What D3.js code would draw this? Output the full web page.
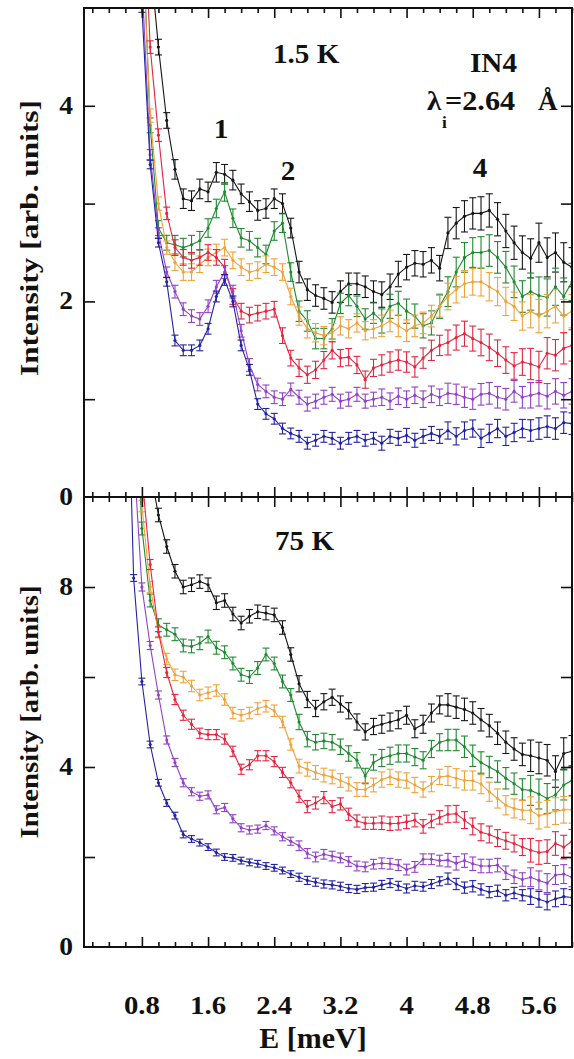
<!DOCTYPE html>
<html>
<head>
<meta charset="utf-8">
<script src="https://cdn.jsdelivr.net/npm/d3@7"></script>
<style>
  body { margin: 0; background: #fff; }
  text { font-family: "Liberation Serif", "Times New Roman", serif; font-weight: bold; fill: #111; }
</style>
</head>
<body>
<script>
// energies (meV)
var energy = [0.6, 0.7, 0.8, 0.9, 1.0, 1.1, 1.2, 1.3, 1.4, 1.5, 1.6, 1.7, 1.8, 1.9, 2.0, 2.1, 2.2, 2.3, 2.4, 2.5,
  2.6, 2.7, 2.8, 2.9, 3.0, 3.1, 3.2, 3.3, 3.4, 3.5, 3.6, 3.7, 3.8, 3.9, 4.0, 4.1, 4.2, 4.3, 4.4, 4.5,
  4.6, 4.7, 4.8, 4.9, 5.0, 5.1, 5.2, 5.3, 5.4, 5.5, 5.6, 5.7, 5.8, 5.9, 6.0];

// 1.5 K panel
var topBlack = [10, 8, 6.5, 5.5, 4.6, 3.85, 3.35, 3.05, 3.03, 3.15, 3.12, 3.32, 3.3, 3.24, 3.1, 3.02, 2.93, 2.95, 3.05, 3.0,
  2.75, 2.3, 2.12, 2.06, 2.03, 1.99, 2.1, 2.18, 2.18, 2.15, 2.1, 2.07, 2.15, 2.28, 2.35, 2.39, 2.38, 2.42, 2.34, 2.7,
  2.8, 2.87, 2.9, 2.9, 2.93, 2.84, 2.72, 2.6, 2.5, 2.44, 2.6, 2.45, 2.5, 2.4, 2.35];
var topGreen = [10, 8, 6, 3.8, 2.75, 2.6, 2.58, 2.55, 2.58, 2.62, 2.75, 2.95, 3.12, 2.85, 2.65, 2.62, 2.55, 2.48, 2.72, 2.8,
  2.3, 1.9, 1.8, 1.62, 1.62, 1.72, 1.98, 2.06, 1.95, 1.82, 1.88, 1.8, 1.95, 1.98, 1.9, 1.85, 1.75, 1.78, 1.95, 2.1,
  2.3, 2.45, 2.5, 2.5, 2.52, 2.45, 2.35, 2.2, 2.05, 2.1, 2.06, 2.04, 2.15, 2.05, 2.2];
var topOrange = [10, 8, 5.8, 3.9, 3.0, 2.55, 2.4, 2.3, 2.3, 2.38, 2.45, 2.5, 2.55, 2.42, 2.35, 2.3, 2.32, 2.38, 2.35, 2.3,
  2.05, 1.85, 1.72, 1.68, 1.65, 1.68, 1.75, 1.72, 1.78, 1.7, 1.72, 1.75, 1.8, 1.75, 1.7, 1.75, 1.78, 1.85, 1.95, 2.05,
  2.12, 2.18, 2.2, 2.2, 2.15, 2.1, 2.0, 1.95, 1.85, 1.9, 1.85, 1.9, 1.95, 1.85, 1.9];
var topRed = [10, 8, 6.5, 4.6, 3.7, 2.9, 2.55, 2.45, 2.42, 2.45, 2.5, 2.45, 2.35, 2.05, 1.9, 1.86, 1.88, 1.9, 1.92, 1.65,
  1.42, 1.32, 1.25, 1.3, 1.4, 1.5, 1.42, 1.43, 1.35, 1.2, 1.32, 1.35, 1.38, 1.4, 1.38, 1.33, 1.42, 1.5, 1.55, 1.58,
  1.63, 1.67, 1.62, 1.58, 1.53, 1.47, 1.4, 1.34, 1.38, 1.36, 1.33, 1.47, 1.45, 1.52, 1.55];
var topPurple = [10, 7.5, 5.3, 3.5, 2.7, 2.3, 2.1, 1.92, 1.85, 1.82, 1.95, 2.15, 2.3, 2.1, 1.7, 1.35, 1.15, 1.08, 1.02, 1.0,
  1.1, 1.02, 0.95, 0.98, 1.02, 1.05, 0.98, 1.0, 1.05, 0.98, 1.0, 1.02, 0.98, 1.03, 1.0, 1.04, 1.0, 1.05, 1.02, 1.06,
  1.05, 1.02, 1.0, 1.05, 1.06, 1.02, 1.0, 1.08, 1.02, 1.04, 1.06, 1.03, 1.08, 1.04, 1.08];
var topBlue = [9, 7, 5.0, 3.4, 2.6, 2.2, 1.6, 1.5, 1.5, 1.55, 1.72, 2.05, 2.22, 2.0, 1.55, 1.3, 0.95, 0.85, 0.8, 0.7,
  0.65, 0.62, 0.55, 0.58, 0.62, 0.6, 0.55, 0.6, 0.62, 0.58, 0.6, 0.55, 0.62, 0.6, 0.63, 0.58, 0.62, 0.65, 0.62, 0.68,
  0.62, 0.68, 0.7, 0.6, 0.65, 0.7, 0.62, 0.66, 0.7, 0.68, 0.7, 0.72, 0.7, 0.76, 0.75];
var errTop = [0.08, 0.08, 0.08, 0.08, 0.08, 0.08, 0.1, 0.1, 0.1, 0.1, 0.1, 0.1, 0.1, 0.1, 0.1, 0.1, 0.1, 0.1, 0.1, 0.1,
  0.1, 0.11, 0.11, 0.11, 0.11, 0.11, 0.11, 0.11, 0.11, 0.11, 0.11, 0.13, 0.13, 0.13, 0.13, 0.13, 0.13, 0.13, 0.13, 0.16,
  0.16, 0.16, 0.16, 0.17, 0.17, 0.17, 0.17, 0.17, 0.17, 0.2, 0.2, 0.2, 0.2, 0.2, 0.2];

// 75 K panel
var botBlack = [16, 14, 12, 10.6, 9.6, 8.9, 8.35, 8.0, 8.05, 8.12, 8.05, 7.65, 7.7, 7.4, 7.2, 7.35, 7.45, 7.42, 7.38, 7.1,
  6.5, 5.85, 5.5, 5.3, 5.45, 5.55, 5.4, 5.25, 5.0, 4.78, 4.9, 4.95, 5.0, 5.05, 5.15, 4.85, 4.95, 5.2, 5.38, 5.38,
  5.33, 5.28, 5.2, 5.05, 4.92, 4.75, 4.55, 4.4, 4.28, 4.25, 4.2, 4.15, 3.9, 4.3, 4.35];
var botGreen = [16, 13, 9.3, 7.7, 7.15, 7.05, 6.95, 6.7, 6.68, 6.75, 6.9, 6.65, 6.55, 6.3, 6.05, 6.0, 6.2, 6.5, 6.3, 5.9,
  5.6, 5.0, 4.62, 4.55, 4.58, 4.55, 4.45, 4.3, 4.15, 3.8, 4.1, 4.2, 4.25, 4.3, 4.3, 4.22, 4.15, 4.4, 4.55, 4.6,
  4.6, 4.45, 4.25, 4.1, 4.0, 3.9, 3.75, 3.63, 3.5, 3.48, 3.4, 3.3, 3.38, 3.6, 3.7];
var botOrange = [16, 13.5, 9.8, 8.0, 7.0, 6.4, 6.05, 6.0, 5.8, 5.6, 5.65, 5.7, 5.5, 5.2, 5.15, 5.2, 5.3, 5.35, 5.25, 5.0,
  4.5, 4.02, 3.95, 3.88, 3.82, 3.78, 3.7, 3.62, 3.5, 3.5, 3.6, 3.72, 3.78, 3.72, 3.7, 3.6, 3.5, 3.62, 3.78, 3.8,
  3.75, 3.7, 3.7, 3.62, 3.45, 3.3, 3.15, 3.08, 3.04, 3.04, 2.92, 2.96, 3.02, 3.05, 3.05];
var botRed = [16, 14, 10.5, 8.5, 7.0, 6.1, 5.5, 5.15, 4.95, 4.75, 4.72, 4.72, 4.62, 4.35, 3.95, 4.05, 4.25, 4.25, 4.12, 3.88,
  3.65, 3.35, 3.12, 3.2, 3.32, 3.12, 3.18, 2.95, 2.8, 2.75, 2.75, 2.76, 2.74, 2.75, 2.78, 2.82, 2.68, 2.8, 2.88, 2.95,
  2.96, 2.82, 2.68, 2.55, 2.5, 2.42, 2.36, 2.3, 2.22, 2.15, 2.1, 2.12, 2.3, 2.22, 2.35];
var botPurple = [18, 11, 8.0, 6.7, 5.6, 4.6, 4.1, 3.65, 3.45, 3.35, 3.38, 3.05, 3.1, 2.85, 2.65, 2.6, 2.62, 2.7, 2.58, 2.45,
  2.35, 2.25, 2.08, 2.0, 2.06, 2.02, 1.98, 1.9, 1.8, 1.78, 1.84, 1.86, 1.85, 1.82, 1.72, 1.78, 1.95, 1.95, 1.92, 1.93,
  1.86, 1.92, 1.85, 1.8, 1.8, 1.82, 1.65, 1.56, 1.5, 1.55, 1.48, 1.42, 1.6, 1.62, 1.55];
var botBlue = [15, 8.2, 5.9, 4.5, 3.65, 3.2, 2.92, 2.5, 2.4, 2.32, 2.22, 2.1, 2.0, 1.98, 1.92, 1.88, 1.85, 1.8, 1.76, 1.7,
  1.62, 1.55, 1.48, 1.44, 1.4, 1.38, 1.35, 1.3, 1.28, 1.32, 1.33, 1.38, 1.42, 1.36, 1.3, 1.36, 1.34, 1.4, 1.46, 1.52,
  1.4, 1.32, 1.35, 1.28, 1.22, 1.25, 1.15, 1.2, 1.15, 1.12, 1.06, 1.0, 1.07, 1.12, 1.1];
var errBot = [0.15, 0.15, 0.15, 0.15, 0.15, 0.15, 0.15, 0.15, 0.15, 0.15, 0.15, 0.15, 0.15, 0.15, 0.15, 0.15, 0.15, 0.15, 0.15, 0.15,
  0.15, 0.18, 0.18, 0.18, 0.18, 0.18, 0.18, 0.18, 0.18, 0.18, 0.18, 0.2, 0.2, 0.2, 0.2, 0.2, 0.2, 0.2, 0.2, 0.25,
  0.25, 0.25, 0.25, 0.25, 0.25, 0.25, 0.25, 0.25, 0.25, 0.35, 0.35, 0.35, 0.35, 0.35, 0.35];

var seriesColors = ["#161616", "#1f8a30", "#f0a23a", "#e2263e", "#9240c8", "#2222a4"];
var errScaleTop = [1, 0.95, 0.85, 0.8, 0.65, 0.55];
var errScaleBot = [1, 0.95, 0.85, 0.75, 0.6, 0.5];

var xMajor = [0.8, 1.6, 2.4, 3.2, 4, 4.8, 5.6];

// ---- chart setup ----
var svgWidth = 574, svgHeight = 1059;
var svg = d3.select("body").append("svg")
  .attr("width", svgWidth)
  .attr("height", svgHeight);

var x = d3.scaleLinear().domain([0.1, 6.0]).range([84, 572]);
var yTop = d3.scaleLinear().domain([0, 5]).range([497, 8]);
var yBot = d3.scaleLinear().domain([0, 10]).range([947, 497]);

var xMinor = d3.range(2, 61, 2).map(d => d / 10).filter(d => xMajor.indexOf(d) < 0);

function addText(sel, px, py, str, size, anchor, sx) {
  return sel.append("text")
    .attr("transform", `translate(${px},${py}) scale(${sx || 1},1)`)
    .attr("text-anchor", anchor || "start")
    .style("font-size", size + "px")
    .text(str);
}

function drawPanel(id, y, seriesList, errs, errScale, yMaxTick, yStep, yLabelStep) {
  var g = svg.append("g");
  var x0 = x.range()[0], x1 = x.range()[1];
  var yb = y.range()[0], yt = y.range()[1];

  g.append("clipPath").attr("id", id)
    .append("rect").attr("x", x0).attr("y", yt).attr("width", x1 - x0).attr("height", yb - yt);

  var plot = g.append("g").attr("clip-path", `url(#${id})`);

  seriesList.forEach(function(vals, si) {
    var color = seriesColors[si];
    var pts = energy.map((e, i) => ({ e: e, v: vals[i], err: errs[i] * errScale[si] }));
    var sg = plot.append("g");

    var line = d3.line().x(d => x(d.e)).y(d => y(d.v));
    sg.append("path").datum(pts)
      .attr("d", line)
      .attr("fill", "none")
      .attr("stroke", color)
      .attr("stroke-width", 1.1);

    var bars = sg.selectAll(".eb").data(pts).enter().append("g");
    bars.append("line")
      .attr("x1", d => x(d.e)).attr("x2", d => x(d.e))
      .attr("y1", d => y(d.v - d.err)).attr("y2", d => y(d.v + d.err))
      .attr("stroke", color).attr("stroke-width", 1.1);
    [-1, 1].forEach(function(s) {
      bars.append("line")
        .attr("x1", d => x(d.e) - 3.5).attr("x2", d => x(d.e) + 3.5)
        .attr("y1", d => y(d.v + s * d.err)).attr("y2", d => y(d.v + s * d.err))
        .attr("stroke", color).attr("stroke-width", 1.1);
    });
    bars.append("circle")
      .attr("cx", d => x(d.e)).attr("cy", d => y(d.v))
      .attr("r", 1.6).attr("fill", color);
  });

  // frame
  g.append("rect")
    .attr("x", x0).attr("y", yt).attr("width", x1 - x0).attr("height", yb - yt)
    .attr("fill", "none").attr("stroke", "#111").attr("stroke-width", 2);

  // x ticks (inward, top and bottom)
  var xAxisB = d3.axisBottom(x).tickValues(xMajor).tickSize(-10).tickFormat("");
  var xAxisBm = d3.axisBottom(x).tickValues(xMinor).tickSize(-5).tickFormat("");
  var xAxisT = d3.axisTop(x).tickValues(xMajor).tickSize(-10).tickFormat("");
  var xAxisTm = d3.axisTop(x).tickValues(xMinor).tickSize(-5).tickFormat("");
  [[xAxisB, yb], [xAxisBm, yb], [xAxisT, yt], [xAxisTm, yt]].forEach(function(a) {
    var ax = g.append("g").attr("transform", `translate(0,${a[1]})`).call(a[0]);
    ax.select(".domain").remove();
    ax.selectAll(".tick line").attr("stroke", "#111").attr("stroke-width", 1.6);
  });

  // y ticks
  var yt_vals = d3.range(yStep, yMaxTick + 0.001, yStep);
  var yAxisL = d3.axisLeft(y).tickValues(yt_vals).tickSize(-11).tickFormat("");
  var yAxisR = d3.axisRight(y).tickValues(yt_vals).tickSize(-11).tickFormat("");
  [[yAxisL, x0], [yAxisR, x1]].forEach(function(a) {
    var ax = g.append("g").attr("transform", `translate(${a[1]},0)`).call(a[0]);
    ax.select(".domain").remove();
    ax.selectAll(".tick line").attr("stroke", "#111").attr("stroke-width", 1.6);
  });

  // y labels
  d3.range(0, yMaxTick + 0.001, yLabelStep).forEach(function(v) {
    addText(g, 73, y(v) + 8, String(v), 25, "end", 1.1);
  });

  return g;
}

var topPanel = drawPanel("clipTop", yTop,
  [topBlack, topGreen, topOrange, topRed, topPurple, topBlue], errTop, errScaleTop, 4, 1, 2);
var botPanel = drawPanel("clipBot", yBot,
  [botBlack, botGreen, botOrange, botRed, botPurple, botBlue], errBot, errScaleBot, 8, 2, 4);

// x tick labels
xMajor.forEach(function(v) {
  addText(svg, x(v), 1014, String(v), 25, "middle", 1.15);
});

// axis titles
addText(svg, 313, 1048, "E [meV]", 30, "middle", 1);

svg.append("text")
  .attr("transform", "translate(38,238) rotate(-90)")
  .attr("text-anchor", "middle")
  .attr("textLength", 276)
  .attr("lengthAdjust", "spacingAndGlyphs")
  .style("font-size", "26px")
  .text("Intensity [arb. units]");

svg.append("text")
  .attr("transform", "translate(38,712) rotate(-90)")
  .attr("text-anchor", "middle")
  .attr("textLength", 253)
  .attr("lengthAdjust", "spacingAndGlyphs")
  .style("font-size", "26px")
  .text("Intensity [arb. units]");

// annotations
addText(svg, 273, 63, "1.5 K", 27, "start", 1.08);
addText(svg, 470, 72, "IN4", 27, "start", 1.08);
addText(svg, 427, 110, "\u03bb", 27, "start", 1.08);
addText(svg, 442, 128, "i", 16, "start", 1.08);
addText(svg, 445, 110, "=2.64", 27, "start", 1.12);
addText(svg, 538, 110, "\u00c5", 27, "start", 1.0);
addText(svg, 221, 138, "1", 27, "middle", 1.08);
addText(svg, 288, 180, "2", 27, "middle", 1.08);
addText(svg, 480, 177, "4", 27, "middle", 1.08);
addText(svg, 275, 550, "75 K", 27, "start", 1.08);
</script>
</body>
</html>
